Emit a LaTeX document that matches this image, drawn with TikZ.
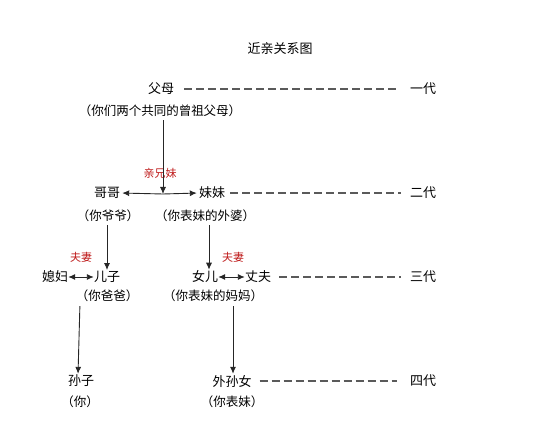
\documentclass[tikz,border=0pt]{standalone}
\usepackage{fontspec}
\setmainfont{Noto Sans CJK SC}
\usetikzlibrary{arrows.meta}
\definecolor{redlab}{RGB}{190,25,25}
\definecolor{dashgray}{RGB}{90,90,90}
\tikzset{
  nm/.style={inner sep=0pt, font=\fontsize{13}{13}\selectfont},
  pn/.style={inner sep=0pt, font=\fontsize{12.5}{13}\selectfont},
  rl/.style={inner sep=0pt, text=redlab, font=\fontsize{11}{11}\selectfont},
  gen/.style={inner sep=0pt, font=\fontsize{13}{13}\selectfont},
  arr/.style={draw=black!85, line width=0.9pt, -{Latex[length=7pt,width=6pt]}},
  darr/.style={draw=black!85, line width=0.9pt, {Latex[length=7pt,width=6pt]}-{Latex[length=7pt,width=6pt]}},
  dl/.style={draw=dashgray, line width=1.1pt, dash pattern=on 8pt off 4pt}
}
\begin{document}
\begin{tikzpicture}[x=1pt,y=-1pt]
\useasboundingbox (0,0) rectangle (555,438);
\node[nm] (title) at (280,49) {近亲关系图};
% generation 1
\node[nm] (fumu) at (161,89) {父母};
\node[pn] (fumup) at (160,111) {（你们两个共同的曾祖父母）};
\node[gen] (g1) at (423,89) {一代};
% generation 2
\node[nm] (gege) at (107,193) {哥哥};
\node[nm] (meimei) at (212,193) {妹妹};
\node[pn] (gegep) at (108,216) {（你爷爷）};
\node[pn] (meimeip) at (205,216) {（你表妹的外婆）};
\node[rl] (qxm) at (160,173) {亲兄妹};
\node[gen] (g2) at (423,193) {二代};
\coordinate (J) at (163,194);
% generation 3
\node[nm] (xifu) at (55,277) {媳妇};
\node[nm] (erzi) at (107,277) {儿子};
\node[nm] (nuer) at (205,277) {女儿};
\node[nm] (zhangfu) at (258,277) {丈夫};
\node[pn] (erzip) at (107,296) {（你爸爸）};
\node[pn] (nuerp) at (213,296) {（你表妹的妈妈）};
\node[rl] (fq1) at (81,257) {夫妻};
\node[rl] (fq2) at (233,257) {夫妻};
\node[gen] (g3) at (423,277) {三代};
% generation 4
\node[nm] (sunzi) at (81,381) {孙子};
\node[nm] (wsn) at (232,381) {外孙女};
\node[pn] (sunzip) at (80,402) {（你）};
\node[pn] (wsnp) at (232,402) {（你表妹）};
\node[gen] (g4) at (423,381) {四代};
% dashed generation lines
\draw[dl, shorten <=10pt, shorten >=13pt] (fumu.east) -- (g1.west);
\draw[dl, shorten <=5pt, shorten >=9pt] (meimei.east) -- (g2.west);
\draw[dl, shorten <=8pt, shorten >=9pt] (zhangfu.east) -- (g3.west);
\draw[dl, shorten <=8pt, shorten >=13pt] (wsn.east) -- (g4.west);
% connectors
\draw[arr, shorten <=3pt] (J |- fumup.south) -- (J);
\draw[arr, shorten >=2pt] (J) -- (gege.east);
\draw[arr, shorten >=2pt] (J) -- (meimei.west);
\draw[arr, shorten <=3pt, shorten >=1pt] (erzi.north |- gegep.south) -- (erzi.north);
\draw[arr, shorten <=3pt, shorten >=1pt] ([xshift=4pt]nuer.north |- meimeip.south) -- ([xshift=4pt]nuer.north);
\draw[darr] (xifu.east) -- (erzi.west);
\draw[darr] (nuer.east) -- (zhangfu.west);
\draw[arr, shorten <=4pt, shorten >=1pt] ([xshift=-1pt]sunzi.north |- erzip.south) -- ([xshift=-3pt]sunzi.north);
\draw[arr, shorten <=4pt, shorten >=1pt] ([xshift=1pt]wsn.north |- nuerp.south) -- ([xshift=1pt]wsn.north);
\end{tikzpicture}
\end{document}
